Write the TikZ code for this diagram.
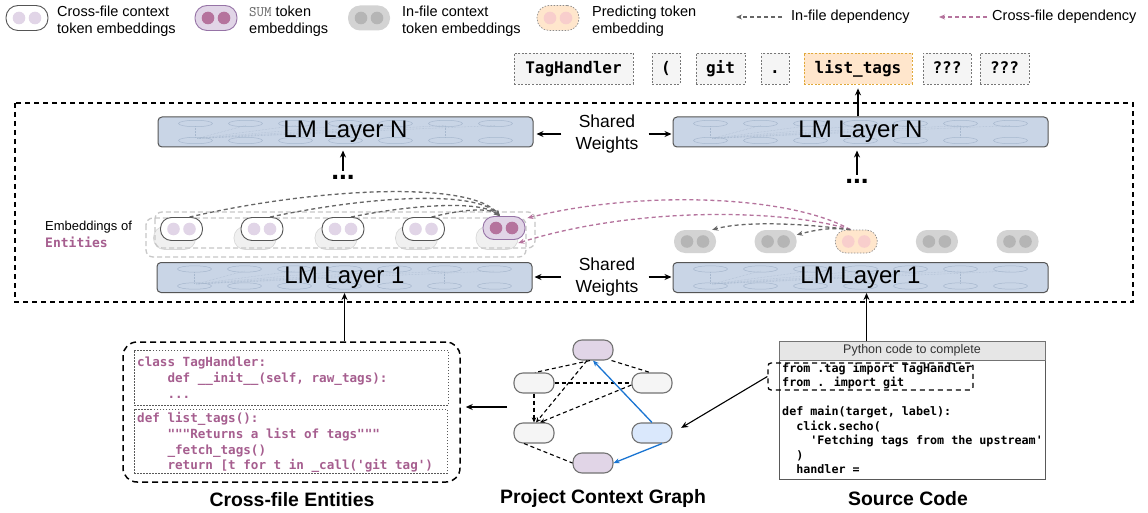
\documentclass[tikz,border=0pt]{standalone}
\usepackage{fontspec}
\setmainfont{Liberation Sans}
\newfontfamily\codefont{DejaVu Sans Mono}
\usetikzlibrary{arrows.meta,shapes.misc,calc}

\definecolor{lmfill}{HTML}{C9D5E6}
\definecolor{lmline}{HTML}{555555}
\definecolor{lmfaint}{HTML}{A7B8CE}
\definecolor{xdot}{HTML}{E1D5E7}
\definecolor{sumfill}{HTML}{E1D5E7}
\definecolor{sumline}{HTML}{9673A6}
\definecolor{sumdot}{HTML}{B5739D}
\definecolor{infill}{HTML}{D3D3D3}
\definecolor{indot}{HTML}{B5B5B5}
\definecolor{predfill}{HTML}{FFE6CC}
\definecolor{preddot}{HTML}{F8CECC}
\definecolor{tokfill}{HTML}{F5F5F5}
\definecolor{tokline}{HTML}{777777}
\definecolor{orline}{HTML}{E0A93A}
\definecolor{pinkarr}{HTML}{B5739D}
\definecolor{depgray}{HTML}{666666}
\definecolor{codepurple}{HTML}{A65E8F}
\definecolor{bluefill}{HTML}{DAE8FC}
\definecolor{bluearr}{HTML}{1A75D2}
\definecolor{hdrfill}{HTML}{E6E6E6}

\newcommand{\twodots}[2]{%
  \fill[#2] ($(#1.center)+(-8,0)$) circle[radius=6.3pt];
  \fill[#2] ($(#1.center)+(8,0)$) circle[radius=6.3pt];}
\newcommand{\lmdeco}[1]{%
  \foreach \kk in {0,...,6}{%
    \draw[lmfaint, line width=0.5pt] ($(#1.north west)+(38+50*\kk,7)$) circle[x radius=17pt, y radius=3.2pt];
    \draw[lmfaint, line width=0.5pt] ($(#1.south west)+(38+50*\kk,-7)$) circle[x radius=17pt, y radius=3.2pt];}
  \draw[lmfaint, densely dotted, line width=0.5pt] ($(#1.north west)+(38,10)$) -- ($(#1.south west)+(38,-10)$);
  \draw[lmfaint, densely dotted, line width=0.5pt] ($(#1.north west)+(288,10)$) -- ($(#1.south west)+(288,-10)$);
  \foreach \kk in {1,...,6}{%
    \draw[lmfaint, densely dotted, line width=0.45pt] ($(#1.south west)+(40,-9)$) -- ($(#1.north west)+(38+50*\kk,9)$);}}

\begin{document}
\begin{tikzpicture}[x=1pt,y=-1pt,
  pill/.style={rectangle, rounded corners=11pt, minimum width=42pt, minimum height=23pt, inner sep=0pt},
  xpill/.style={pill, fill=white, draw=lmline, line width=0.9pt},
  sumpill/.style={pill, fill=sumfill, draw=sumline, line width=0.9pt},
  inpill/.style={pill, fill=infill},
  predpill/.style={pill, fill=predfill, draw=black!45, dash pattern=on 1.5pt off 1.5pt, line width=0.7pt},
  shpill/.style={pill, fill=black!6, draw=black!16, line width=0.6pt},
  legtext/.style={anchor=west, align=left, inner sep=0pt, font=\fontsize{14.5}{17}\selectfont},
  tok/.style={rectangle, fill=tokfill, draw=tokline, dash pattern=on 2pt off 1.6pt, line width=0.8pt,
    minimum height=31pt, inner sep=0pt, text height=11.7pt, text depth=2.5pt,
    font=\codefont\bfseries\fontsize{16}{18}\selectfont},
  lmbox/.style={rectangle, rounded corners=4pt, fill=lmfill, draw=lmline, line width=1pt,
    minimum width=375pt, minimum height=30pt, inner sep=0pt},
  lmtext/.style={inner sep=0pt, font=\fontsize{24}{28}\selectfont},
  swtext/.style={align=center, inner sep=0pt, font=\fontsize{17.5}{22}\selectfont},
  dotstext/.style={inner sep=0pt, font=\bfseries\fontsize{28}{30}\selectfont},
  arr/.style={-{Stealth[length=7pt,width=6pt]}, line width=1.3pt, black},
  gdep/.style={dash pattern=on 4pt off 3pt, line width=1.3pt, color=depgray, -{Stealth[length=6pt,width=5pt]}},
  pdep/.style={gdep, color=pinkarr},
  gn/.style={rectangle, rounded corners=9pt, minimum width=40pt, minimum height=20pt, inner sep=0pt,
    draw=black!55, line width=1.1pt, fill=tokfill},
  gedge/.style={dash pattern=on 4pt off 3pt, line width=1.1pt, black},
  gedgea/.style={gedge, -{Stealth[length=5pt,width=4.5pt]}},
  bedge/.style={line width=1.3pt, bluearr, -{Stealth[length=6pt,width=5pt]}},
  codetext/.style={anchor=north west, align=left, inner sep=0pt, text=codepurple,
    font=\codefont\bfseries\fontsize{12.6}{15.8}\selectfont},
  srctext/.style={anchor=north west, align=left, inner sep=0pt,
    font=\codefont\bfseries\fontsize{11.7}{14.5}\selectfont},
  dotbox/.style={rectangle, draw=black!65, dash pattern=on 1.5pt off 1.5pt, line width=1pt, inner sep=0pt},
  title/.style={inner sep=0pt, font=\bfseries\fontsize{19.4}{22}\selectfont}
]
\useasboundingbox (0,0) rectangle (1148,513);
\fill[white] (0,0) rectangle (1148,513);

% ---------------- legend
\node[xpill, minimum height=25pt, rounded corners=12pt] (lg1) at (27,18) {};
\twodots{lg1}{xdot}
\node[legtext] (lgt1) at (57,21) {Cross-file context\\token embeddings};
\node[sumpill, minimum height=25pt, rounded corners=12pt] (lg2) at (216,18) {};
\twodots{lg2}{sumdot}
\node[legtext] (lgt2) at (249,21) {{\ttfamily\color{black!60}SUM} token\\embeddings};
\node[inpill, minimum height=25pt, rounded corners=12pt] (lg3) at (369,18) {};
\twodots{lg3}{indot}
\node[legtext] (lgt3) at (402,21) {In-file context\\token embeddings};
\node[predpill, minimum height=25pt, rounded corners=12pt] (lg4) at (558,18) {};
\twodots{lg4}{preddot}
\node[legtext] (lgt4) at (592,21) {Predicting token\\embedding};
\node[legtext] (lgt5) at (791,17) {In-file dependency};
\coordinate (lgc5) at (736,17);
\draw[gdep, shorten <=9pt] (lgt5.west) -- (lgc5);
\node[legtext] (lgt6) at (992,17) {Cross-file dependency};
\coordinate (lgc6) at (939,17);
\draw[pdep, shorten <=5pt] (lgt6.west) -- (lgc6);

% ---------------- predicted tokens
\node[tok, minimum width=119pt] (t1) at (573.5,68.5) {TagHandler};
\node[tok, minimum width=28pt] (t2) at (666,68.5) {(};
\node[tok, minimum width=49pt] (t3) at (720.5,68.5) {git};
\node[tok, minimum width=28pt] (t4) at (775,68.5) {.};
\node[tok, minimum width=108pt, fill=predfill, draw=orline] (t5) at (858,68.5) {list\_tags};
\node[tok, minimum width=48pt] (t6) at (947,68.5) {???};
\node[tok, minimum width=49pt] (t7) at (1004.5,68.5) {???};

% ---------------- outer frame
\draw[dash pattern=on 5pt off 4pt, line width=1.5pt] (15,103) rectangle (1133,302);

% ---------------- LM layers
\node[lmbox] (lmNl) at (345.5,132) {};
\lmdeco{lmNl}
\node[lmtext] (lmNlt) at (lmNl.center) {LM Layer N};
\node[lmbox] (lmNr) at (860.5,132) {};
\lmdeco{lmNr}
\node[lmtext] (lmNrt) at (lmNr.center) {LM Layer N};
\node[lmbox] (lm1l) at (344.5,277.5) {};
\lmdeco{lm1l}
\node[lmtext] (lm1lt) at (lm1l.center) {LM Layer 1};
\node[lmbox] (lm1r) at (860.5,277.5) {};
\lmdeco{lm1r}
\node[lmtext] (lm1rt) at (lm1r.center) {LM Layer 1};

\node[swtext] (sw1) at (607,134) {Shared\\Weights};
\node[swtext] (sw2) at (607,277) {Shared\\Weights};
\draw[arr, shorten <=14pt, shorten >=3pt] (sw1.west) -- (sw1.west -| lmNl.east);
\draw[arr, shorten <=10pt, shorten >=1pt] (sw1.east) -- (sw1.east -| lmNr.west);
\draw[arr, shorten <=14pt, shorten >=2pt] (sw2.west) -- (sw2.west -| lm1l.east);
\draw[arr, shorten <=10pt, shorten >=1pt] (sw2.east) -- (sw2.east -| lm1r.west);

\node[dotstext] (dotsL) at (343,177) {...};
\node[dotstext] (dotsR) at (857,181) {...};
\draw[arr, shorten <=4pt, shorten >=3pt] (dotsL.north) -- (dotsL.north |- lmNl.south);
\draw[arr, shorten <=4pt, shorten >=3pt] (dotsR.north) -- (dotsR.north |- lmNr.south);
\draw[arr, shorten >=4pt] (t5.south |- lmNr.north) -- (t5.south);

% ---------------- entity embeddings (left)
\draw[black!22, dash pattern=on 5pt off 3pt, line width=1.3pt, rounded corners=7pt] (146,218) rectangle (526,257);
\foreach \i/\xx in {1/181.5,2/262,3/343,4/423.5,5/504}{
  \node[shpill] (s\i) at (\xx-7,238) {};
}
\draw[black!22, dash pattern=on 5pt off 3pt, line width=1.3pt, rounded corners=7pt] (155,212) rectangle (535,248);
\node[xpill] (e1) at (181.5,229) {}; \twodots{e1}{xdot}
\node[xpill] (e2) at (262,229) {};   \twodots{e2}{xdot}
\node[xpill] (e3) at (343,229) {};   \twodots{e3}{xdot}
\node[xpill] (e4) at (423.5,229) {}; \twodots{e4}{xdot}
\node[sumpill] (e5) at (504,228) {}; \twodots{e5}{sumdot}

\node[anchor=west, align=left, inner sep=0pt, font=\fontsize{13}{16.5}\selectfont] (embl) at (45,234.5)
  {Embeddings of\\{\codefont\bfseries\color{codepurple}Entities}};

% ---------------- source embeddings (right)
\node[inpill] (r1) at (695,241.5) {};    \twodots{r1}{indot}
\node[inpill] (r2) at (775.6,241.5) {};  \twodots{r2}{indot}
\node[predpill] (pred) at (856.25,241.5) {}; \twodots{pred}{preddot}
\node[inpill] (r4) at (936.9,241.5) {};  \twodots{r4}{indot}
\node[inpill] (r5) at (1017.5,241.5) {}; \twodots{r5}{indot}

% in-file dependencies (left)
\draw[gdep] ([xshift=8pt]e1.north) .. controls (315,188) and (470,180) .. ([xshift=-4pt]e5.north);
\draw[gdep] ([xshift=8pt]e2.north) .. controls (370,196) and (475,190) .. ([xshift=-4pt]e5.north);
\draw[gdep] ([xshift=8pt]e3.north) .. controls (410,205) and (480,200) .. ([xshift=-4pt]e5.north);
\draw[gdep] ([xshift=8pt]e4.north) .. controls (460,210) and (488,207) .. ([xshift=-4pt]e5.north);
% cross-file dependencies
\draw[pdep] ([xshift=-6pt]pred.north) .. controls (790,195) and (640,190) .. ([yshift=10pt,xshift=2pt]e5.east);
\draw[pdep] ([xshift=-6pt]pred.north) .. controls (790,210) and (640,205) .. ([yshift=-5pt]s5.east);
% in-file dependencies (right)
\draw[gdep] ([xshift=-6pt]pred.north) .. controls (790,222) and (740,222) .. ([xshift=-4pt]r1.north east);
\draw[gdep] ([xshift=-6pt]pred.north) .. controls (830,227) and (815,230) .. ([xshift=0pt,yshift=-5pt]r2.north east);

% ---------------- cross-file entities
\node[rectangle, draw, dash pattern=on 6pt off 4pt, line width=1.5pt, rounded corners=14pt,
  minimum width=337pt, minimum height=140pt, inner sep=0pt] (xent) at (291.5,412) {};
\node[dotbox, minimum width=314pt, minimum height=55pt] (xb1) at (291,377.5) {};
\node[dotbox, minimum width=313pt, minimum height=64pt] (xb2) at (290.5,441) {};
\node[codetext] (c1) at (137,357) {class TagHandler:\\~~~~def \_\_init\_\_(self, raw\_tags):\\~~~~...};
\node[codetext] (c2) at (137,412) {def list\_tags():\\~~~~"""Returns a list of tags"""\\~~~~\_fetch\_tags()\\~~~~return [t for t in \_call('git tag')};
\node[title] (tx) at (292,500) {Cross-file Entities};
\draw[arr] (lm1l.south |- xent.north) -- (lm1l.south);

% ---------------- project context graph
\node[gn, fill=sumfill] (gT) at (593,350) {};
\node[gn] (gL1) at (534,383) {};
\node[gn] (gR1) at (652,383) {};
\node[gn] (gL2) at (534,433) {};
\node[gn, fill=bluefill] (gR2) at (652,433) {};
\node[gn, fill=sumfill] (gB) at (593,463) {};
\draw[gedge] ([xshift=-3pt]gT.south) -- ([xshift=1pt]gL1.north);
\draw[gedgea] ([xshift=-6pt]gT.south) -- ([xshift=2pt]gL2.north);
\draw[gedge] ([xshift=-2pt]gT.south east) -- ([xshift=-2pt]gR1.north);
\draw[gedge] (gL1.east) -- (gR1.west);
\draw[gedgea] (gL1.south) -- (gL2.north);
\draw[gedgea] ([yshift=-2pt]gR1.west) -- ([xshift=6pt]gL2.north);
\draw[gedge] ([xshift=-10pt]gL2.south) -- (gB.west);
\draw[bedge] (gR2.north) -- (gT.south);
\draw[bedge] ([xshift=10pt]gR2.south) -- (gB.east);
\node[title] (tg) at (603,498) {Project Context Graph};
\coordinate (gout) at (507,407);
\draw[arr, shorten >=5pt] (gout) -- (gout -| xent.east);

% ---------------- source code
\node[rectangle, draw=black!65, fill=white, line width=1pt, minimum width=266pt, minimum height=119pt, inner sep=0pt] (src) at (912,419.5) {};
\node[rectangle, draw=black!55, fill=hdrfill, line width=1pt, minimum width=266pt, minimum height=19pt, inner sep=0pt,
  font=\fontsize{12.5}{14}\selectfont, text=black!80] (hdr) at (912,350.5) {Python code to complete};
\node[srctext] (sc) at (782,362.5) {from .tag import TagHandler\\from . import git\\[14.5pt]def main(target, label):\\~~click.secho(\\~~~~'Fetching tags from the upstream'\\~~)\\~~handler =};
\node[rectangle, draw, dash pattern=on 5pt off 4pt, line width=1.3pt, rounded corners=3pt,
  minimum width=205pt, minimum height=27pt, inner sep=0pt] (imp) at (870.5,376.5) {};
\node[title] (ts) at (908,499) {Source Code};
\draw[arr] ([xshift=6pt]lm1r.south |- hdr.north) -- ([xshift=6pt]lm1r.south);
\draw[arr, line width=1.1pt, shorten >=10pt] (imp.west) -- (gR2.east);
\end{tikzpicture}
\end{document}
